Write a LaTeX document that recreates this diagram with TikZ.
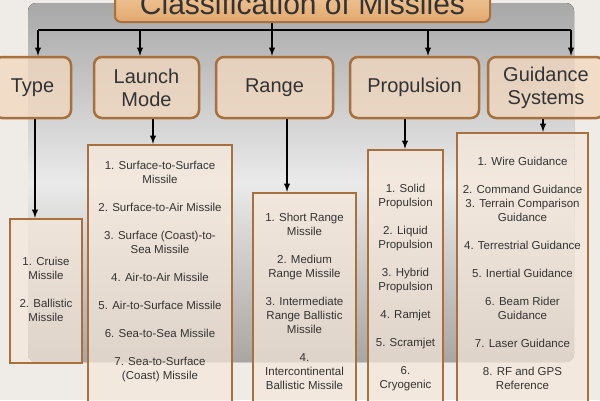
\documentclass[tikz,border=0pt]{standalone}
\usepackage{fontspec}
\setmainfont{Liberation Sans}
\usetikzlibrary{positioning}
\usetikzlibrary{calc}
\usetikzlibrary{arrows}
\tikzset{>=latex}
\definecolor{outerBg}{HTML}{EFEBE7}
\definecolor{panelTop}{HTML}{A8A8A8}
\definecolor{panelMid}{HTML}{EAEAEA}
\definecolor{panelBot}{HTML}{A9A5A2}
\definecolor{boxLine}{HTML}{A8703C}
\definecolor{boxFill}{HTML}{F2D8BE}
\definecolor{listFill}{HTML}{F6E8DA}
\definecolor{titleTop}{HTML}{F2CCA2}
\definecolor{titleBot}{HTML}{E2A86E}
\definecolor{ink}{HTML}{333333}
\tikzset{heading/.style={rectangle, rounded corners=6pt, draw=boxLine, line width=2pt, top color=titleTop, bottom color=titleBot, minimum width=375pt, minimum height=37pt, text=ink, font=\fontsize{30}{32}\selectfont}}
\tikzset{group/.style={rectangle, rounded corners=8pt, draw=boxLine, line width=2.5pt, fill=boxFill, fill opacity=0.75, text opacity=1, minimum height=61pt, align=center, text=ink, font=\fontsize{20}{23}\selectfont}}
\tikzset{list/.style={rectangle, draw=boxLine, line width=2.5pt, fill=listFill, fill opacity=0.7, draw opacity=1}}
\tikzset{items/.style={inner sep=0pt, align=center, text=ink, font=\fontsize{11.5}{14}\selectfont}}
\tikzset{link/.style={draw=black, line width=1.8pt, ->}}

\begin{document}
\begin{tikzpicture}[x=1pt, y=-1pt]

    \useasboundingbox (0,0) rectangle (600,400);
    \clip (0,0) rectangle (600,400);
    \fill [outerBg] (0,0) rectangle (600,400);
    \fill [rounded corners=8pt, top color=panelTop, bottom color=panelBot, middle color=panelMid] (28,3) rectangle (574,362);

    % headings
    \node [heading] (title) at (302.5,3.5) {Classification of Missiles};
    \node [group, minimum width=77pt] (typeBox) at (32.5,87.5) {Type};
    \node [group, minimum width=105pt] (launchBox) at (146.5,87.5) {Launch\\Mode};
    \node [group, minimum width=117pt] (rangeBox) at (274.5,87.5) {Range};
    \node [group, minimum width=129pt] (propBox) at (414.5,87.5) {Propulsion};
    \node [group, minimum width=116pt] (guideBox) at (546,87.5) {Guidance\\Systems};

    % lists
    \node [list, minimum width=72pt, minimum height=144pt] (typeList) at (46,291) {};
    \node [list, minimum width=144pt, minimum height=275pt] (launchList) at (160,282.5) {};
    \node [list, minimum width=103pt, minimum height=227pt] (rangeList) at (304.5,306.5) {};
    \node [list, minimum width=75pt, minimum height=270pt] (propList) at (405.5,285) {};
    \node [list, minimum width=131pt, minimum height=287pt] (guideList) at (522.5,276.5) {};

    \node [items, below=39.5pt of typeList.north] (typeItems) {1. Cruise\\Missile\\[14pt]2. Ballistic\\Missile};
    \node [items, below=17.5pt of launchList.north] (launchItems) {1. Surface-to-Surface\\Missile\\[14pt]2. Surface-to-Air Missile\\[14pt]3. Surface (Coast)-to-\\Sea Missile\\[14pt]4. Air-to-Air Missile\\[14pt]5. Air-to-Surface Missile\\[14pt]6. Sea-to-Sea Missile\\[14pt]7. Sea-to-Surface\\(Coast) Missile};
    \node [items, below=21.5pt of rangeList.north] (rangeItems) {1. Short Range\\Missile\\[14pt]2. Medium\\Range Missile\\[14pt]3. Intermediate\\Range Ballistic\\Missile\\[14pt]4.\\Intercontinental\\Ballistic Missile};
    \node [items, below=35.5pt of propList.north] (propItems) {1. Solid\\Propulsion\\[14pt]2. Liquid\\Propulsion\\[14pt]3. Hybrid\\Propulsion\\[14pt]4. Ramjet\\[14pt]5. Scramjet\\[14pt]6.\\Cryogenic};
    \node [items, below=25.5pt of guideList.north] (guideItems) {1. Wire Guidance\\[14pt]2. Command Guidance\\3. Terrain Comparison\\Guidance\\[14pt]4. Terrestrial Guidance\\[14pt]5. Inertial Guidance\\[14pt]6. Beam Rider\\Guidance\\[14pt]7. Laser Guidance\\[14pt]8. RF and GPS\\Reference};

    % connectors
    \coordinate (bar) at (0,30);
    \coordinate (typeIn) at ([xshift=5.5pt]typeBox.north);
    \coordinate (launchIn) at ([xshift=-6.5pt]launchBox.north);
    \coordinate (rangeIn) at ([xshift=-2.5pt]rangeBox.north);
    \coordinate (propIn) at ([xshift=13.5pt]propBox.north);
    \coordinate (guideIn) at ([xshift=25pt]guideBox.north);
    \draw [line width=1.8pt] (typeIn |- bar) -- (guideIn |- bar);
    \draw [link] (typeIn |- bar) -- (typeIn);
    \draw [link] (launchIn |- bar) -- (launchIn);
    \draw [link] (title.south -| rangeIn) -- (rangeIn);
    \draw [link] (propIn |- bar) -- (propIn);
    \draw [link] (guideIn |- bar) -- (guideIn);

    \coordinate (typeOut) at ([xshift=2.5pt]typeBox.south);
    \coordinate (launchOut) at ([xshift=6.5pt]launchBox.south);
    \coordinate (rangeOut) at ([xshift=12.5pt]rangeBox.south);
    \coordinate (propOut) at ([xshift=-9.5pt]propBox.south);
    \coordinate (guideOut) at ([xshift=-3pt]guideBox.south);
    \draw [link] (typeOut) -- (typeOut |- typeList.north);
    \draw [link] (launchOut) -- (launchOut |- launchList.north);
    \draw [link] (rangeOut) -- (rangeOut |- rangeList.north);
    \draw [link] (propOut) -- (propOut |- propList.north);
    \draw [link] (guideOut) -- (guideOut |- guideList.north);

\end{tikzpicture}
\end{document}
